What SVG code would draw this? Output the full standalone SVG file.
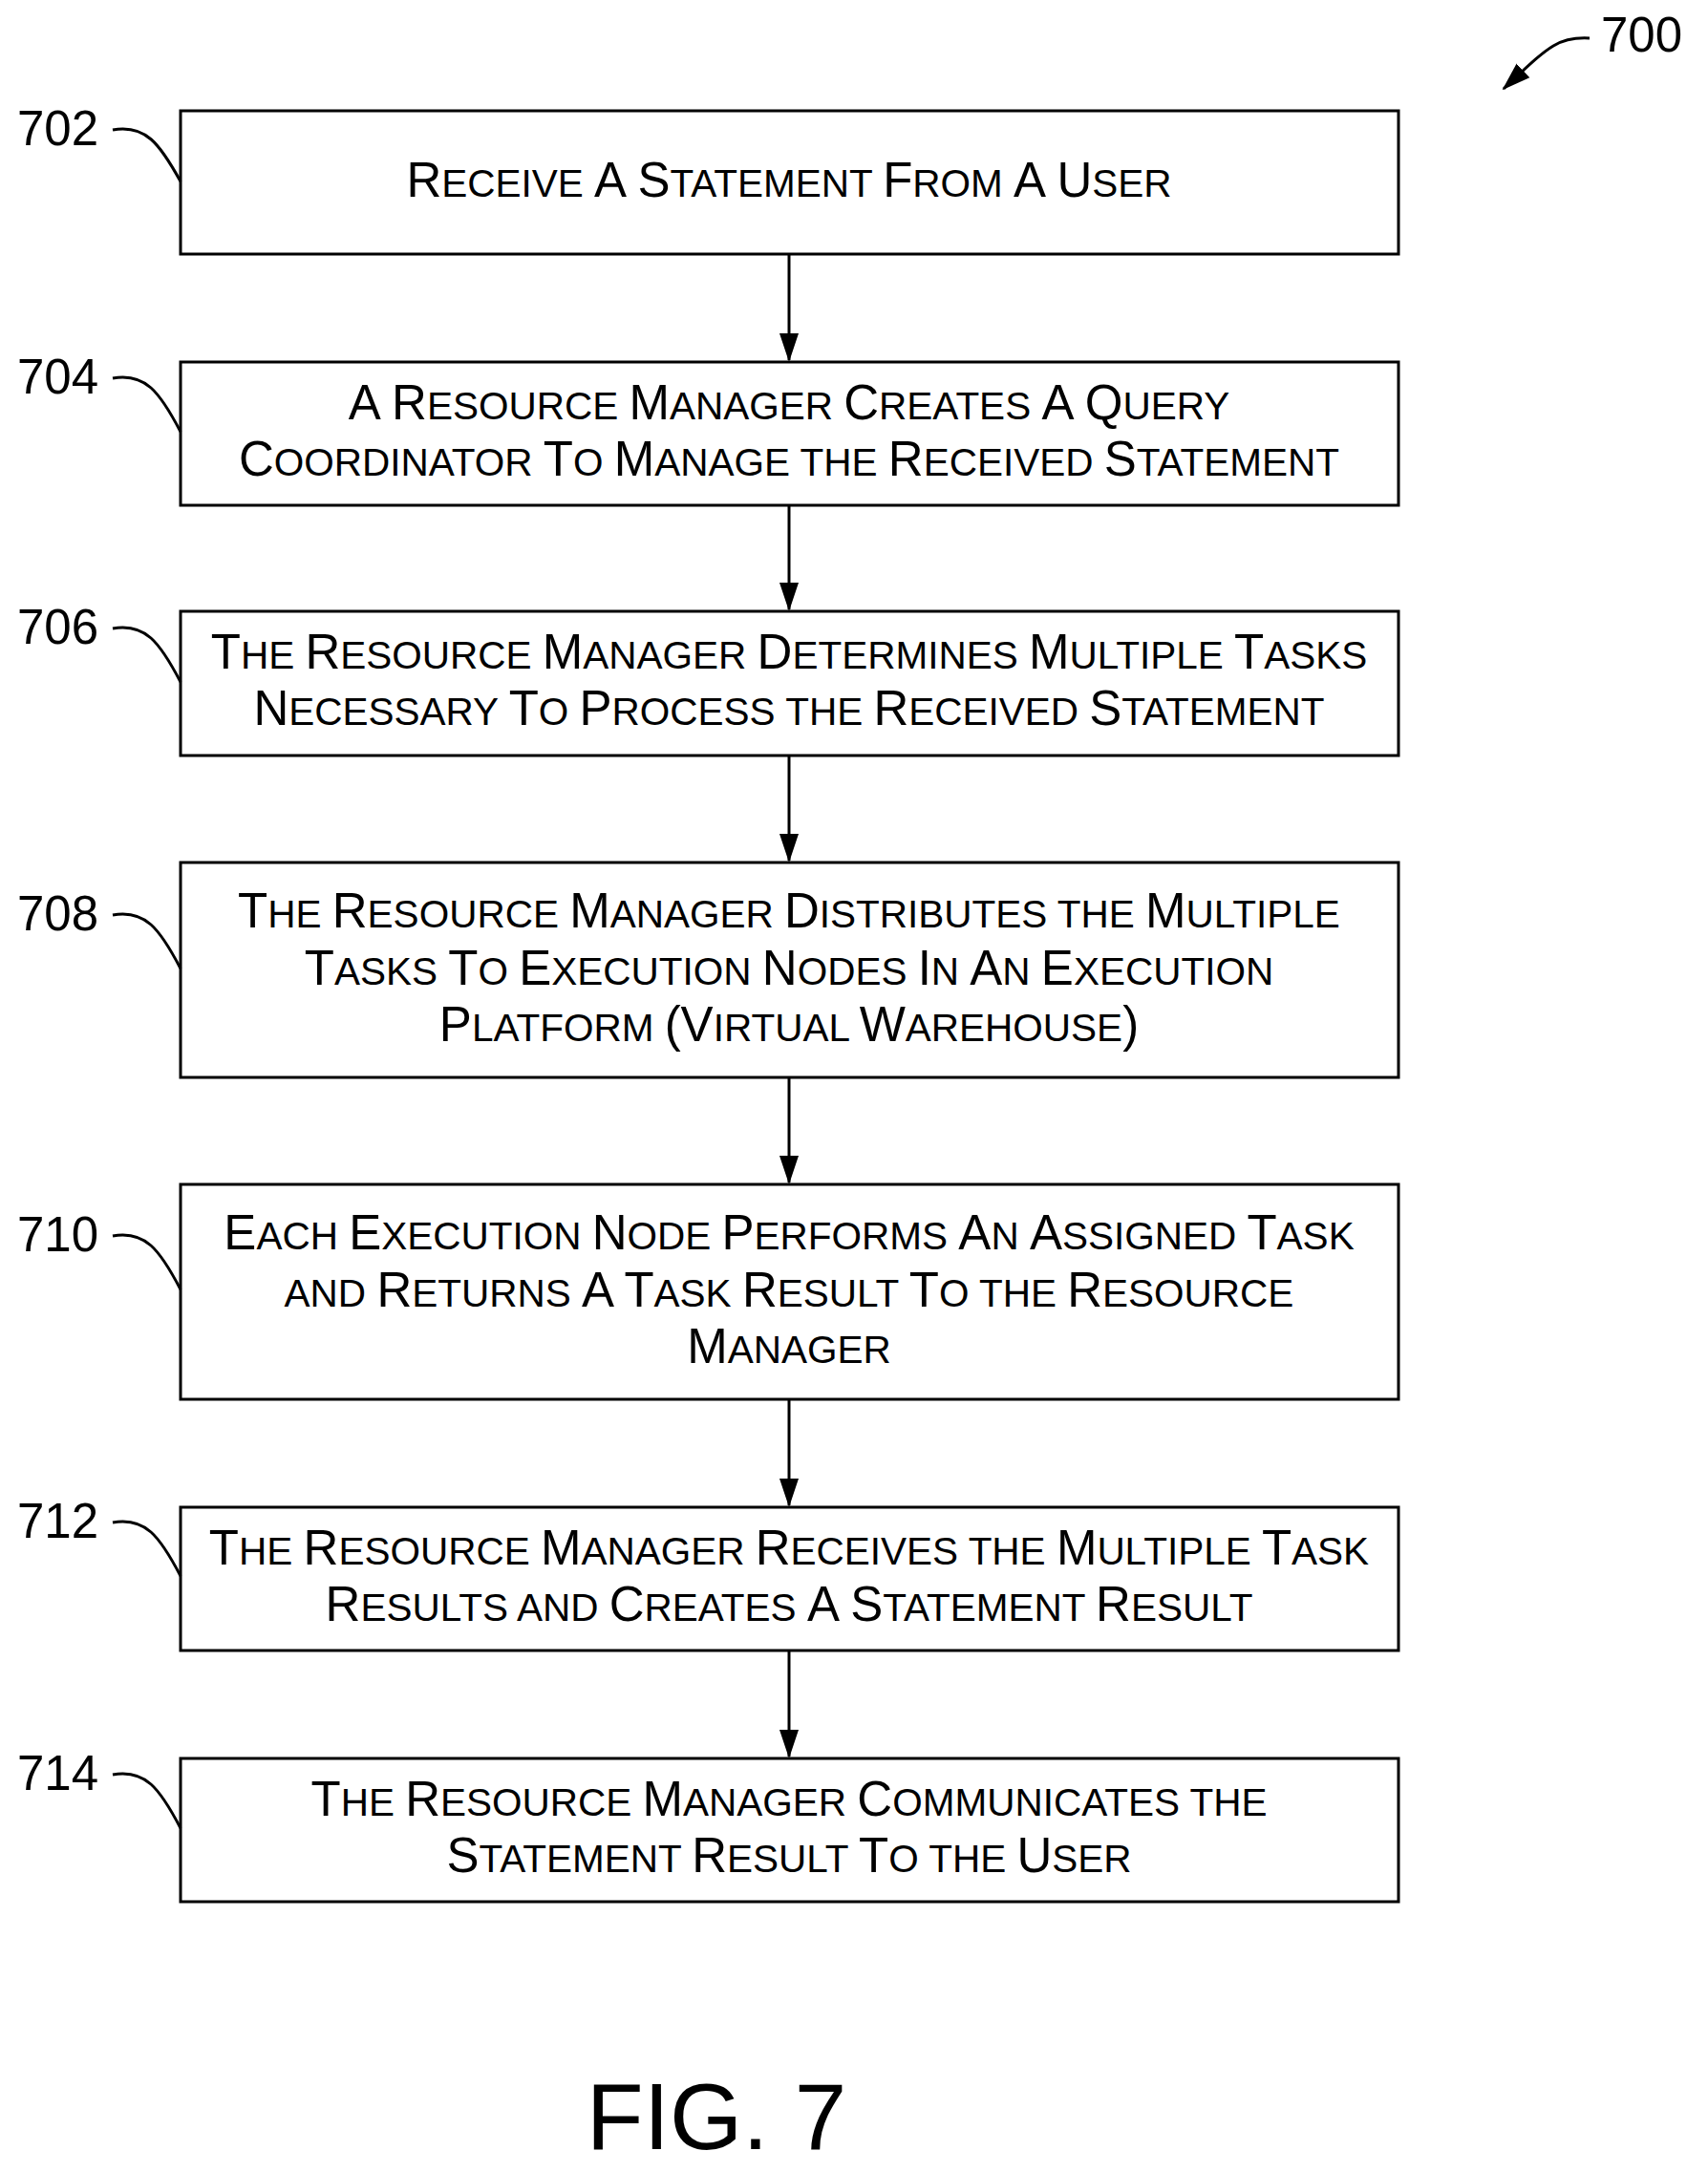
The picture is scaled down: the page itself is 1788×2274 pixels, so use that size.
<svg xmlns="http://www.w3.org/2000/svg" width="1788" height="2274" viewBox="0 0 1788 2274">
<style>
.box{fill:#fff;stroke:#000;stroke-width:3}
.t{font-family:"Liberation Sans",Arial,sans-serif;font-size:40.5px;text-anchor:middle;fill:#000}
.b{font-size:51px}
.lbl{font-family:"Liberation Sans",Arial,sans-serif;font-size:51px;fill:#000}
.ld{fill:none;stroke:#000;stroke-width:3}
.c{stroke:#000;stroke-width:3;fill:none;marker-end:url(#ah2)}
</style>
<defs>
<marker id="ah2" markerWidth="30" markerHeight="30" refX="28" refY="15" orient="auto" markerUnits="userSpaceOnUse"><path d="M0,5 L30,15 L0,25 Z" fill="#000"/></marker></defs>
<text class="lbl" x="1676" y="54">700</text>
<path d="M1664,40 C1630,38 1620,50 1574,93" fill="none" stroke="#000" stroke-width="3" marker-end="url(#ah2)"/>
<g id="n702"><rect class="box" x="189" y="116" width="1275" height="150"/>
<text class="lbl" x="18" y="152">702</text><path class="ld" d="M118,136 C152,130 167,150 189,190"/>
<text class="t" x="826" y="206"><tspan class="b">R</tspan>ECEIVE <tspan class="b">A S</tspan>TATEMENT <tspan class="b">F</tspan>ROM <tspan class="b">A U</tspan>SER</text></g>
<g id="n704"><rect class="box" x="189" y="379" width="1275" height="150"/>
<text class="lbl" x="18" y="412">704</text><path class="ld" d="M118,396 C152,390 167,410 189,452"/>
<text class="t" x="826" y="439"><tspan class="b">A R</tspan>ESOURCE <tspan class="b">M</tspan>ANAGER <tspan class="b">C</tspan>REATES <tspan class="b">A Q</tspan>UERY</text>
<text class="t" x="826" y="498"><tspan class="b">C</tspan>OORDINATOR <tspan class="b">T</tspan>O <tspan class="b">M</tspan>ANAGE THE <tspan class="b">R</tspan>ECEIVED <tspan class="b">S</tspan>TATEMENT</text></g>
<g id="n706"><rect class="box" x="189" y="640" width="1275" height="151"/>
<text class="lbl" x="18" y="674">706</text><path class="ld" d="M118,658 C152,652 167,672 189,714"/>
<text class="t" x="826" y="700"><tspan class="b">T</tspan>HE <tspan class="b">R</tspan>ESOURCE <tspan class="b">M</tspan>ANAGER <tspan class="b">D</tspan>ETERMINES <tspan class="b">M</tspan>ULTIPLE <tspan class="b">T</tspan>ASKS</text>
<text class="t" x="826" y="759"><tspan class="b">N</tspan>ECESSARY <tspan class="b">T</tspan>O <tspan class="b">P</tspan>ROCESS THE <tspan class="b">R</tspan>ECEIVED <tspan class="b">S</tspan>TATEMENT</text></g>
<g id="n708"><rect class="box" x="189" y="903" width="1275" height="225"/>
<text class="lbl" x="18" y="974">708</text><path class="ld" d="M118,958 C152,952 167,972 189,1014"/>
<text class="t" x="826" y="971"><tspan class="b">T</tspan>HE <tspan class="b">R</tspan>ESOURCE <tspan class="b">M</tspan>ANAGER <tspan class="b">D</tspan>ISTRIBUTES THE <tspan class="b">M</tspan>ULTIPLE</text>
<text class="t" x="826" y="1031"><tspan class="b">T</tspan>ASKS <tspan class="b">T</tspan>O <tspan class="b">E</tspan>XECUTION <tspan class="b">N</tspan>ODES <tspan class="b">I</tspan>N <tspan class="b">A</tspan>N <tspan class="b">E</tspan>XECUTION</text>
<text class="t" x="826" y="1090"><tspan class="b">P</tspan>LATFORM <tspan class="b">(V</tspan>IRTUAL <tspan class="b">W</tspan>AREHOUSE<tspan class="b">)</tspan></text></g>
<g id="n710"><rect class="box" x="189" y="1240" width="1275" height="225"/>
<text class="lbl" x="18" y="1310">710</text><path class="ld" d="M118,1294 C152,1288 167,1308 189,1350"/>
<text class="t" x="826" y="1308"><tspan class="b">E</tspan>ACH <tspan class="b">E</tspan>XECUTION <tspan class="b">N</tspan>ODE <tspan class="b">P</tspan>ERFORMS <tspan class="b">A</tspan>N <tspan class="b">A</tspan>SSIGNED <tspan class="b">T</tspan>ASK</text>
<text class="t" x="826" y="1368">AND <tspan class="b">R</tspan>ETURNS <tspan class="b">A T</tspan>ASK <tspan class="b">R</tspan>ESULT <tspan class="b">T</tspan>O THE <tspan class="b">R</tspan>ESOURCE</text>
<text class="t" x="826" y="1427"><tspan class="b">M</tspan>ANAGER</text></g>
<g id="n712"><rect class="box" x="189" y="1578" width="1275" height="150"/>
<text class="lbl" x="18" y="1610">712</text><path class="ld" d="M118,1594 C152,1588 167,1608 189,1650"/>
<text class="t" x="826" y="1638"><tspan class="b">T</tspan>HE <tspan class="b">R</tspan>ESOURCE <tspan class="b">M</tspan>ANAGER <tspan class="b">R</tspan>ECEIVES THE <tspan class="b">M</tspan>ULTIPLE <tspan class="b">T</tspan>ASK</text>
<text class="t" x="826" y="1697"><tspan class="b">R</tspan>ESULTS AND <tspan class="b">C</tspan>REATES <tspan class="b">A S</tspan>TATEMENT <tspan class="b">R</tspan>ESULT</text></g>
<g id="n714"><rect class="box" x="189" y="1841" width="1275" height="150"/>
<text class="lbl" x="18" y="1874">714</text><path class="ld" d="M118,1858 C152,1852 167,1872 189,1914"/>
<text class="t" x="826" y="1901"><tspan class="b">T</tspan>HE <tspan class="b">R</tspan>ESOURCE <tspan class="b">M</tspan>ANAGER <tspan class="b">C</tspan>OMMUNICATES THE</text>
<text class="t" x="826" y="1960"><tspan class="b">S</tspan>TATEMENT <tspan class="b">R</tspan>ESULT <tspan class="b">T</tspan>O THE <tspan class="b">U</tspan>SER</text></g>
<g id="connectors">
<line class="c" x1="826" y1="266" x2="826" y2="377"/>
<line class="c" x1="826" y1="529" x2="826" y2="638"/>
<line class="c" x1="826" y1="791" x2="826" y2="901"/>
<line class="c" x1="826" y1="1128" x2="826" y2="1238"/>
<line class="c" x1="826" y1="1465" x2="826" y2="1576"/>
<line class="c" x1="826" y1="1728" x2="826" y2="1839"/>
</g>
<text x="750" y="2250" font-family="Liberation Sans,Arial,sans-serif" font-size="98" text-anchor="middle">FIG. 7</text>
</svg>
